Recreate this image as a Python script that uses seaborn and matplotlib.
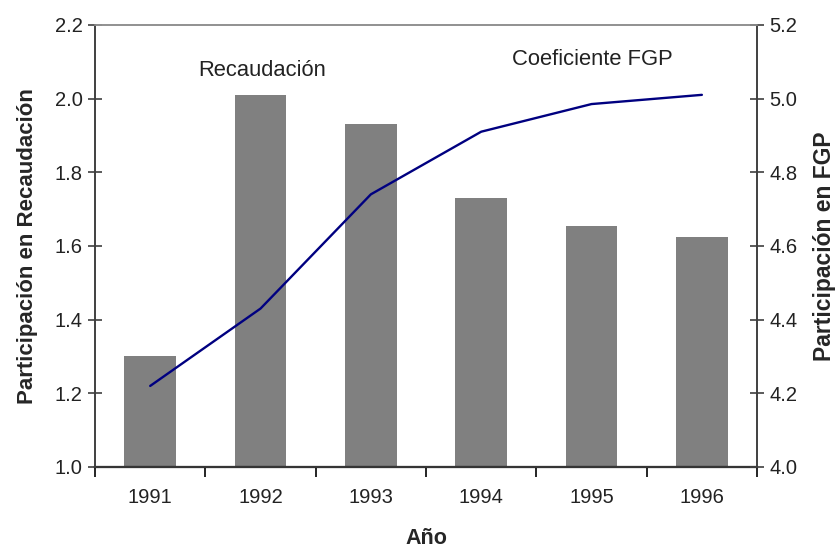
import matplotlib
matplotlib.use("Agg")
import matplotlib.pyplot as plt
import seaborn as sns
import numpy as np
import pandas as pd
from matplotlib.ticker import FixedLocator, MultipleLocator

years = ["1991", "1992", "1993", "1994", "1995", "1996"]
recaudacion = [1.30, 2.01, 1.93, 1.73, 1.655, 1.625]
coef_fgp = [4.22, 4.43, 4.74, 4.91, 4.985, 5.01]

sns.set_theme(style="white")
plt.rcParams['font.family'] = ['Liberation Sans', 'DejaVu Sans']

fig = plt.figure(figsize=(8.38, 5.52), dpi=100)
ax = fig.add_axes([0.1134, 0.154, 0.7900, 0.801])

df = pd.DataFrame({"year": years, "rec": recaudacion, "fgp": coef_fgp})
sns.barplot(data=df, x="year", y="rec", color="#808080", saturation=1,
            width=0.47, ax=ax, linewidth=0)
ax.set_xlim(-0.5, 5.5)
ax.set_ylim(1.0, 2.2)
ax.yaxis.set_major_locator(MultipleLocator(0.2))
ax.set_yticklabels([f"{v:.1f}" for v in ax.get_yticks()])

ax2 = ax.twinx()
sns.lineplot(x=np.arange(len(years)), y=coef_fgp, color="#000080",
             linewidth=1.7, ax=ax2)
ax2.set_ylim(4.0, 5.2)
ax2.yaxis.set_major_locator(MultipleLocator(0.2))
ax2.set_yticklabels([f"{v:.1f}" for v in ax2.get_yticks()])

for a in (ax, ax2):
    for s in a.spines.values():
        s.set_visible(True)
        s.set_color("#404040")
        s.set_linewidth(1.2)
ax.spines["top"].set_color("#909090")
ax2.spines["top"].set_color("#909090")
ax.spines["bottom"].set_color("black")
ax.spines["bottom"].set_linewidth(1.6)

ax.xaxis.set_minor_locator(FixedLocator(np.arange(-0.5, 6.0, 1.0)))
ax.tick_params(axis="x", which="major", length=0, pad=15, labelsize=14.5,
               labelcolor="#222222")
ax.tick_params(axis="x", which="minor", bottom=True, length=7, width=1.2,
               direction="out", color="black")
ax.tick_params(axis="y", left=True, length=10, width=1.2, direction="inout",
               labelsize=14.5, labelcolor="#222222", color="#404040", pad=4)
ax2.tick_params(axis="y", right=True, length=10, width=1.2, direction="inout",
                labelsize=14.5, labelcolor="#222222", color="#404040", pad=4)

ax.set_xlabel("Año", fontsize=15.5, fontweight="bold", labelpad=15)
ax.set_ylabel("Participación en Recaudación", fontsize=16, fontweight="bold",
              labelpad=12)
ax2.set_ylabel("Participación en FGP", fontsize=16.5, fontweight="bold",
               labelpad=11)

ax.text(1.01, 2.075, "Recaudación", ha="center", va="center", fontsize=15.8,
        color="#222222")
ax.text(4.01, 2.105, "Coeficiente FGP", ha="center", va="center",
        fontsize=15.8, color="#222222")

fig.savefig("out.png", dpi=100)
